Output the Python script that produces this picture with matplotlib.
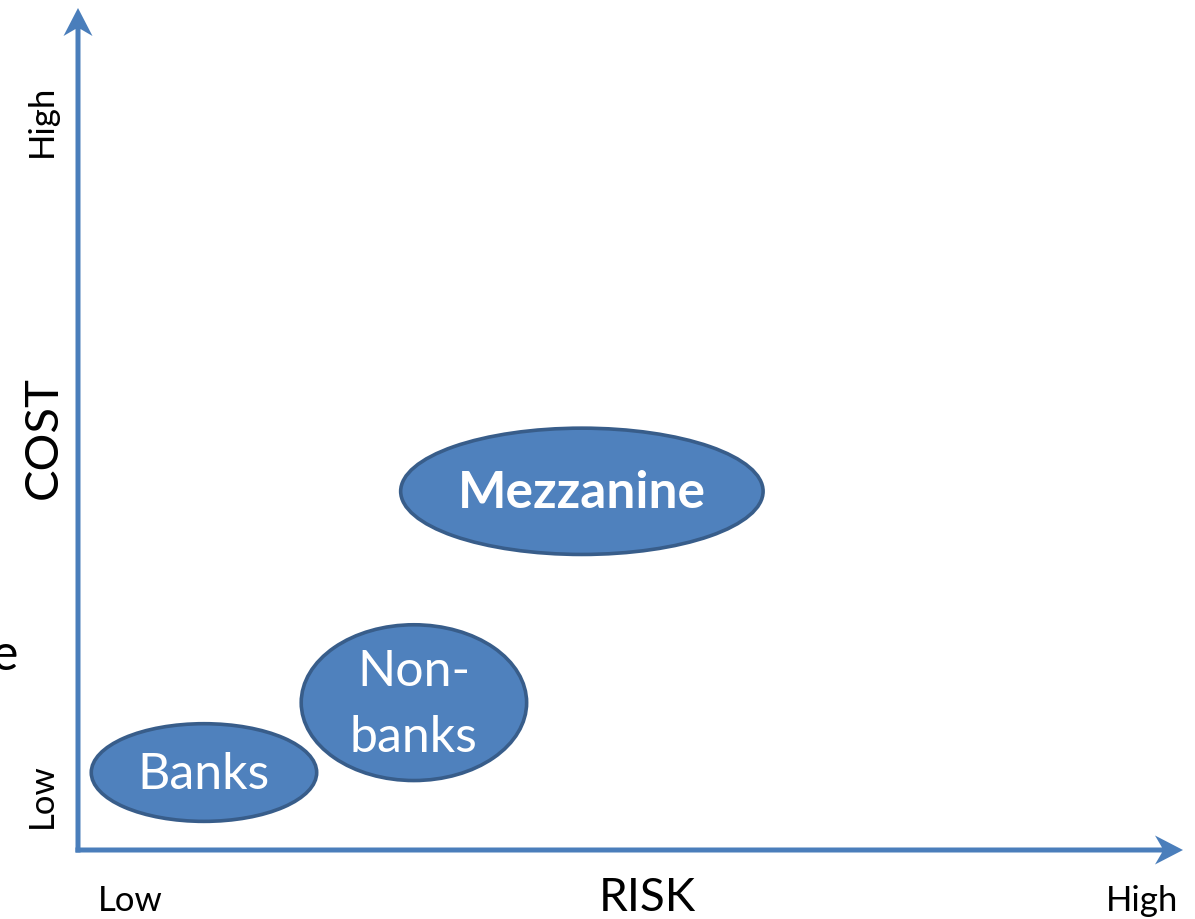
import matplotlib
matplotlib.use("Agg")
import matplotlib.pyplot as plt
from matplotlib.patches import Ellipse, FancyArrow

plt.rcParams['font.family'] = ['Lato', 'DejaVu Sans']

# financing sources on a risk / cost map (0-10 scale on both axes)
groups = ["Banks", "Non-\nbanks", "Mezzanine"]
risk_center = [1.14, 3.04, 4.56]
cost_center = [0.92, 1.75, 4.26]
risk_span = [2.04, 2.04, 3.28]
cost_span = [1.16, 1.85, 1.50]
bold = [False, False, True]

axis_ticks = ["Low", "High"]
tick_pos = [0.47, 9.63]
ytick_pos = [0.64, 8.66]

BLUE = "#4F81BD"
EDGE = "#385D8A"
LINE = "#4A7EBB"

fig = plt.figure(figsize=(11.95, 9.19), dpi=100)
ax = fig.add_axes([0, 0, 1, 1])
# px per unit: x 110.5, y 84.2 ; origin at pixel (78, 850)
ax.set_xlim(-78 / 110.5, (1195 - 78) / 110.5)
ax.set_ylim(-69 / 84.2, (919 - 69) / 84.2)
ax.axis("off")

# axes arrows
ax.add_patch(FancyArrow(-0.023, 0, 10.023, 0, width=5 / 84.2, head_width=29 / 84.2,
                        head_length=28 / 110.5, length_includes_head=True,
                        overhang=0.25, color=LINE, lw=0))
ax.add_patch(FancyArrow(0, -0.03, 0, 10.03, width=5 / 110.5, head_width=29 / 110.5,
                        head_length=28 / 84.2, length_includes_head=True,
                        overhang=0.25, color=LINE, lw=0))

for name, cx, cy, w, h, b in zip(groups, risk_center, cost_center, risk_span, cost_span, bold):
    ax.add_patch(Ellipse((cx, cy), w, h, facecolor=BLUE, edgecolor=EDGE, lw=2.6))
    ax.text(cx, cy - 0.03, name, ha="center", va="center", color="white",
            fontsize=37 if b else 36, fontweight="bold" if b else "normal",
            linespacing=1.55, multialignment="center")

# axis labels
ax.text(5.15, -0.724, "RISK", ha="center", va="baseline", fontsize=33)
ax.text(-0.19, 4.90, "COST", ha="center", va="baseline", rotation=90,
        rotation_mode="anchor", fontsize=34)
for lab, xp in zip(axis_ticks, tick_pos):
    ax.text(xp, -0.724, lab, ha="center", va="baseline", fontsize=25)
for lab, yp in zip(axis_ticks, ytick_pos):
    ax.text(-0.24, yp, lab, ha="center", va="baseline", rotation=90,
            rotation_mode="anchor", fontsize=25)

# clipped text at left edge (cut off in the original too)
ax.text(-0.543, 2.14, "e", ha="right", va="baseline", fontsize=36)

fig.savefig("out.png", dpi=100)
